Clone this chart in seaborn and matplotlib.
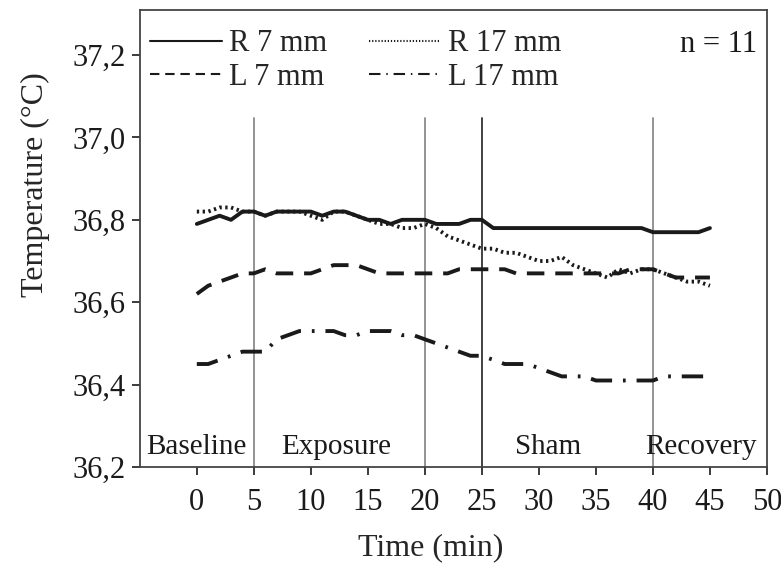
import numpy as np
import pandas as pd
import matplotlib
matplotlib.use("Agg")
import matplotlib.pyplot as plt
import seaborn as sns
from matplotlib.ticker import FuncFormatter

# time points (min)
time = list(range(0, 46))

r7 = [36.79, 36.80, 36.81, 36.80, 36.82, 36.82, 36.81, 36.82, 36.82, 36.82,
      36.82, 36.81, 36.82, 36.82, 36.81, 36.80, 36.80, 36.79, 36.80, 36.80,
      36.80, 36.79, 36.79, 36.79, 36.80, 36.80, 36.78, 36.78, 36.78, 36.78,
      36.78, 36.78, 36.78, 36.78, 36.78, 36.78, 36.78, 36.78, 36.78, 36.78,
      36.77, 36.77, 36.77, 36.77, 36.77, 36.78]
r17 = [36.82, 36.82, 36.83, 36.83, 36.82, 36.82, 36.81, 36.82, 36.82, 36.82,
       36.81, 36.80, 36.82, 36.82, 36.81, 36.80, 36.79, 36.79, 36.78, 36.78,
       36.79, 36.78, 36.76, 36.75, 36.74, 36.73, 36.73, 36.72, 36.72, 36.71,
       36.70, 36.70, 36.71, 36.69, 36.68, 36.67, 36.66, 36.68, 36.67, 36.68,
       36.68, 36.67, 36.66, 36.65, 36.65, 36.64]
l7 = [36.62, 36.64, 36.65, 36.66, 36.67, 36.67, 36.68, 36.67, 36.67, 36.67,
      36.67, 36.68, 36.69, 36.69, 36.69, 36.68, 36.67, 36.67, 36.67, 36.67,
      36.67, 36.67, 36.67, 36.68, 36.68, 36.68, 36.68, 36.68, 36.67, 36.67,
      36.67, 36.67, 36.67, 36.67, 36.67, 36.67, 36.67, 36.67, 36.68, 36.68,
      36.68, 36.67, 36.66, 36.66, 36.66, 36.66]
l17 = [36.45, 36.45, 36.46, 36.47, 36.48, 36.48, 36.48, 36.51, 36.52, 36.53,
       36.53, 36.53, 36.53, 36.52, 36.52, 36.53, 36.53, 36.53, 36.52, 36.52,
       36.51, 36.50, 36.49, 36.48, 36.47, 36.47, 36.46, 36.45, 36.45, 36.45,
       36.44, 36.43, 36.42, 36.42, 36.42, 36.41, 36.41, 36.41, 36.41, 36.41,
       36.41, 36.42, 36.42, 36.42, 36.42, 36.42]

series_names = ["R 7 mm", "R 17 mm", "L 7 mm", "L 17 mm"]
phase_lines = [5, 20, 25, 40]
phase_colors = ["#8a8a8a", "#8a8a8a", "#333333", "#8a8a8a"]
phase_labels = ["Baseline", "Exposure", "Sham", "Recovery"]
phase_label_x = [0.0, 12.2, 30.8, 44.2]

df = pd.DataFrame({
    "time": time * 4,
    "temp": r7 + r17 + l7 + l17,
    "series": sum([[n] * len(time) for n in series_names], []),
})

sns.set_style("ticks")
plt.rcParams["font.family"] = ["Liberation Serif", "DejaVu Serif"]

FS = 22

fig = plt.figure(figsize=(7.81, 5.63), dpi=100)
ax = fig.add_axes([0.179, 0.1705, 0.803, 0.8115])

dash_map = {
    "R 7 mm": "",
    "R 17 mm": (0.6, 0.9),
    "L 7 mm": (4.5, 2.8),
    "L 17 mm": (5.5, 2.8, 0.7, 2.8),
}
sns.lineplot(data=df, x="time", y="temp", style="series", dashes=dash_map,
             color="#1a1a1a", linewidth=2.8, ax=ax, legend=False)

for x, c in zip(phase_lines, phase_colors):
    ax.plot([x, x], [36.2, 37.047], color=c, linewidth=1.3, zorder=1)

for lab, x in zip(phase_labels, phase_label_x):
    ax.text(x, 36.218, lab, ha="center", va="bottom", fontsize=21, color="#1a1a1a")

ax.set_xlim(-5, 50)
ax.set_ylim(36.2, 37.309)
ax.set_xticks(range(0, 51, 5))
ax.set_yticks([36.2, 36.4, 36.6, 36.8, 37.0, 37.2])
ax.yaxis.set_major_formatter(FuncFormatter(lambda v, p: f"{v:.1f}".replace(".", ",")))
ax.tick_params(direction="out", length=6, width=1.2, labelsize=FS, colors="#1a1a1a")
ax.tick_params(axis="x", pad=9)
ax.tick_params(axis="y", pad=4)
for s in ax.spines.values():
    s.set_color("#444444")
    s.set_linewidth(1.3)

ax.set_xlabel("Time (min)", fontsize=23)
ax.set_ylabel("Temperature (°C)", fontsize=23)
ax.xaxis.set_label_coords(0.464, -0.146)
ax.yaxis.set_label_coords(-0.143, 0.617)

handles = [plt.Line2D([], [], color="#1a1a1a", linewidth=1.5,
                      linestyle="-" if not dash_map[n] else (0, dash_map[n]))
           for n in series_names]
order = [0, 2, 1, 3]
ax.legend([handles[i] for i in order], [series_names[i] for i in order],
          ncol=2, loc="upper left", bbox_to_anchor=(-0.028, 1.018), frameon=False,
          handlelength=2.35, handletextpad=0.25, columnspacing=1.35,
          labelspacing=0.15, fontsize=FS)
ax.text(0.985, 0.925, "n = 11", transform=ax.transAxes, ha="right", va="center",
        fontsize=FS, color="#1a1a1a")

fig.savefig("out.png", dpi=100)
